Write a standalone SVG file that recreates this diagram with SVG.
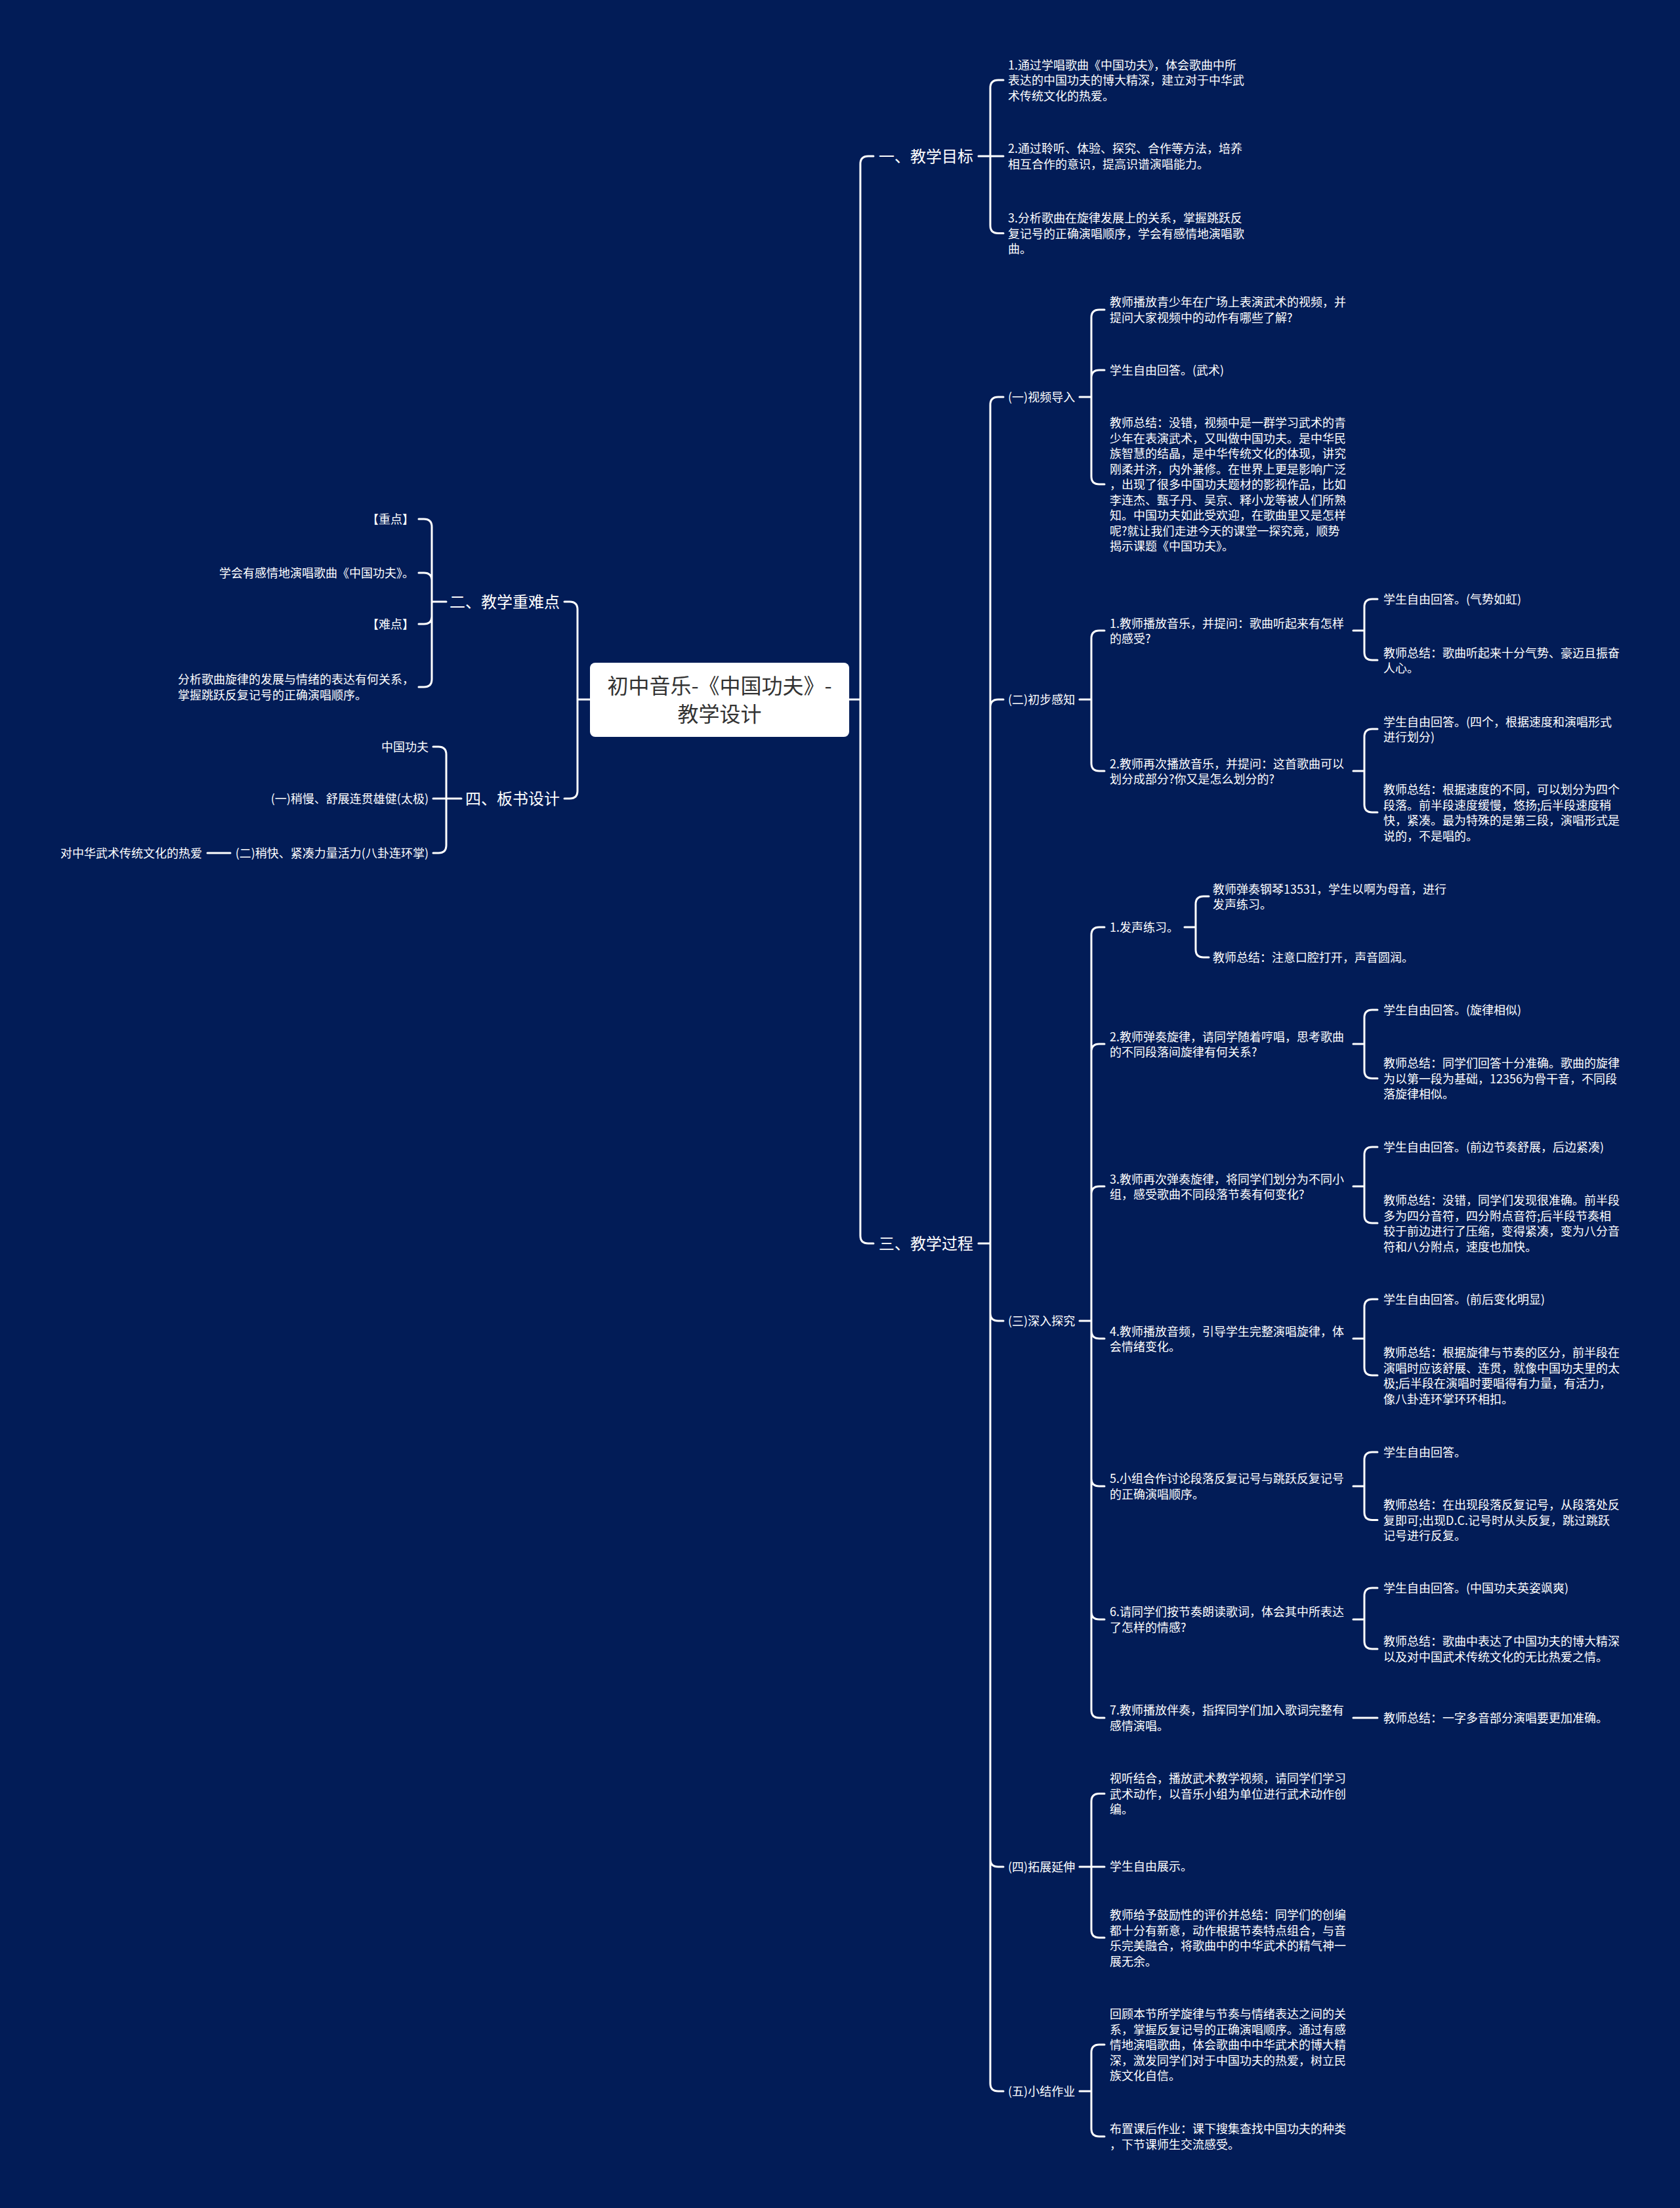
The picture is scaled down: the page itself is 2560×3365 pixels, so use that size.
<svg xmlns="http://www.w3.org/2000/svg" width="2560" height="3365" viewBox="0 0 2560 3365">
<style>
text{font-family:"Noto Sans CJK SC","Noto Sans",sans-serif;fill:#ffffff;font-size:18px}
.l1{font-size:24px}
.root{font-size:32px;fill:#333333}
.c{stroke:#ffffff;stroke-width:3;fill:none;stroke-linecap:round}
.end{text-anchor:end}
</style>
<rect x="0" y="0" width="2560" height="3365" fill="#021c57"/>
<g id="connectors" class="c">
<path d="M1294,1066 L1311,1066 M1311,250 L1311,1883 M1311,250 Q1311,238 1323,238 L1331,238 M1311,1883 Q1311,1895 1323,1895 L1331,1895"/>
<path d="M1491,238 L1509,238 M1509,134 L1509,343.5 M1509,134 Q1509,122 1521,122 L1529,122 M1509,238 L1529,238 M1509,343.5 Q1509,355.5 1521,355.5 L1529,355.5"/>
<path d="M1491,1895 L1509,1895 M1509,617 L1509,3175 M1509,617 Q1509,605 1521,605 L1529,605 M1509,1078 Q1509,1066 1521,1066 L1529,1066 M1509,2001 Q1509,2013 1521,2013 L1529,2013 M1509,2833 Q1509,2845 1521,2845 L1529,2845 M1509,3175 Q1509,3187 1521,3187 L1529,3187"/>
<path d="M1645,605 L1663,605 M1663,484 L1663,726 M1663,484 Q1663,472 1675,472 L1683,472 M1663,576 Q1663,564 1675,564 L1683,564 M1663,726 Q1663,738 1675,738 L1683,738"/>
<path d="M1645,1066 L1663,1066 M1663,973 L1663,1163 M1663,973 Q1663,961 1675,961 L1683,961 M1663,1163 Q1663,1175 1675,1175 L1683,1175"/>
<path d="M2062,961 L2079,961 M2079,925 L2079,994 M2079,925 Q2079,913 2091,913 L2099,913 M2079,994 Q2079,1006 2091,1006 L2099,1006"/>
<path d="M2062,1175 L2079,1175 M2079,1123 L2079,1226 M2079,1123 Q2079,1111 2091,1111 L2099,1111 M2079,1226 Q2079,1238 2091,1238 L2099,1238"/>
<path d="M1645,2013 L1663,2013 M1663,1425 L1663,2606 M1663,1425 Q1663,1413 1675,1413 L1683,1413 M1663,1603 Q1663,1591 1675,1591 L1683,1591 M1663,1820 Q1663,1808 1675,1808 L1683,1808 M1663,2028 Q1663,2040 1675,2040 L1683,2040 M1663,2253 Q1663,2265 1675,2265 L1683,2265 M1663,2456 Q1663,2468 1675,2468 L1683,2468 M1663,2606 Q1663,2618 1675,2618 L1683,2618"/>
<path d="M1805,1413 L1822,1413 M1822,1378 L1822,1447 M1822,1378 Q1822,1366 1834,1366 L1842,1366 M1822,1447 Q1822,1459 1834,1459 L1842,1459"/>
<path d="M2062,1591 L2079,1591 M2079,1551 L2079,1631.5 M2079,1551 Q2079,1539 2091,1539 L2099,1539 M2079,1631.5 Q2079,1643.5 2091,1643.5 L2099,1643.5"/>
<path d="M2062,1808 L2079,1808 M2079,1760 L2079,1852 M2079,1760 Q2079,1748 2091,1748 L2099,1748 M2079,1852 Q2079,1864 2091,1864 L2099,1864"/>
<path d="M2062,2040 L2079,2040 M2079,1992 L2079,2084 M2079,1992 Q2079,1980 2091,1980 L2099,1980 M2079,2084 Q2079,2096 2091,2096 L2099,2096"/>
<path d="M2062,2265 L2079,2265 M2079,2225 L2079,2304.5 M2079,2225 Q2079,2213 2091,2213 L2099,2213 M2079,2304.5 Q2079,2316.5 2091,2316.5 L2099,2316.5"/>
<path d="M2062,2468 L2079,2468 M2079,2432 L2079,2501 M2079,2432 Q2079,2420 2091,2420 L2099,2420 M2079,2501 Q2079,2513 2091,2513 L2099,2513"/>
<path d="M2062,2618 L2099,2618"/>
<path d="M1645,2845 L1663,2845 M1663,2745.5 L1663,2941 M1663,2745.5 Q1663,2733.5 1675,2733.5 L1683,2733.5 M1663,2845 L1683,2845 M1663,2941 Q1663,2953 1675,2953 L1683,2953"/>
<path d="M1645,3187 L1663,3187 M1663,3128 L1663,3244 M1663,3128 Q1663,3116 1675,3116 L1683,3116 M1663,3244 Q1663,3256 1675,3256 L1683,3256"/>
<path d="M899,1066 L880,1066 M880,929 L880,1205 M880,929 Q880,917 868,917 L860,917 M880,1205 Q880,1217 868,1217 L860,1217"/>
<path d="M680,917 L658,917 M658,803 L658,1035 M658,803 Q658,791 646,791 L638,791 M658,885 Q658,873 646,873 L638,873 M658,939 Q658,951 646,951 L638,951 M658,1035 Q658,1047 646,1047 L638,1047"/>
<path d="M703,1217 L680,1217 M680,1150 L680,1288 M680,1150 Q680,1138 668,1138 L660,1138 M680,1217 L660,1217 M680,1288 Q680,1300 668,1300 L660,1300"/>
<path d="M351,1300 L316,1300"/>
</g>
<g id="root">
<rect x="899" y="1010" width="395" height="113" rx="8" fill="#ffffff"/>
<text class="root" text-anchor="middle"><tspan x="1096.5" y="1057">初中音乐-《中国功夫》-</tspan><tspan x="1096.5" y="1100">教学设计</tspan></text>
</g>
<g id="n-mubiao"><text class="l1" x="1339" y="247">一、教学目标</text></g>
<g id="n-mubiao-1"><text><tspan x="1536" y="105.5">1.通过学唱歌曲《中国功夫》，体会歌曲中所</tspan><tspan x="1536" y="129">表达的中国功夫的博大精深，建立对于中华武</tspan><tspan x="1536" y="152.5">术传统文化的热爱。</tspan></text></g>
<g id="n-mubiao-2"><text><tspan x="1536" y="233">2.通过聆听、体验、探究、合作等方法，培养</tspan><tspan x="1536" y="257">相互合作的意识，提高识谱演唱能力。</tspan></text></g>
<g id="n-mubiao-3"><text><tspan x="1536" y="339">3.分析歌曲在旋律发展上的关系，掌握跳跃反</tspan><tspan x="1536" y="362.5">复记号的正确演唱顺序，学会有感情地演唱歌</tspan><tspan x="1536" y="386">曲。</tspan></text></g>
<g id="n-guocheng"><text class="l1" x="1339" y="1904">三、教学过程</text></g>
<g id="n-g1"><text x="1536" y="612">(一)视频导入</text></g>
<g id="n-g1-1"><text><tspan x="1691" y="467">教师播放青少年在广场上表演武术的视频，并</tspan><tspan x="1691" y="490.5">提问大家视频中的动作有哪些了解?</tspan></text></g>
<g id="n-g1-2"><text x="1691" y="571">学生自由回答。(武术)</text></g>
<g id="n-g1-3"><text><tspan x="1691" y="651">教师总结：没错，视频中是一群学习武术的青</tspan><tspan x="1691" y="674.5">少年在表演武术，又叫做中国功夫。是中华民</tspan><tspan x="1691" y="698">族智慧的结晶，是中华传统文化的体现，讲究</tspan><tspan x="1691" y="721.5">刚柔并济，内外兼修。在世界上更是影响广泛</tspan><tspan x="1691" y="745">，出现了很多中国功夫题材的影视作品，比如</tspan><tspan x="1691" y="768.5">李连杰、甄子丹、吴京、释小龙等被人们所熟</tspan><tspan x="1691" y="792">知。中国功夫如此受欢迎，在歌曲里又是怎样</tspan><tspan x="1691" y="815.5">呢?就让我们走进今天的课堂一探究竟，顺势</tspan><tspan x="1691" y="839">揭示课题《中国功夫》。</tspan></text></g>
<g id="n-g2"><text x="1536" y="1073">(二)初步感知</text></g>
<g id="n-g2-1"><text><tspan x="1691" y="956.5">1.教师播放音乐，并提问：歌曲听起来有怎样</tspan><tspan x="1691" y="980">的感受?</tspan></text></g>
<g id="n-g2-1-1"><text x="2108" y="920">学生自由回答。(气势如虹)</text></g>
<g id="n-g2-1-2"><text><tspan x="2108" y="1001.5">教师总结：歌曲听起来十分气势、豪迈且振奋</tspan><tspan x="2108" y="1025">人心。</tspan></text></g>
<g id="n-g2-2"><text><tspan x="1691" y="1170.5">2.教师再次播放音乐，并提问：这首歌曲可以</tspan><tspan x="1691" y="1194">划分成部分?你又是怎么划分的?</tspan></text></g>
<g id="n-g2-2-1"><text><tspan x="2108" y="1106.5">学生自由回答。(四个，根据速度和演唱形式</tspan><tspan x="2108" y="1130">进行划分)</tspan></text></g>
<g id="n-g2-2-2"><text><tspan x="2108" y="1210">教师总结：根据速度的不同，可以划分为四个</tspan><tspan x="2108" y="1233.5">段落。前半段速度缓慢，悠扬;后半段速度稍</tspan><tspan x="2108" y="1257">快，紧凑。最为特殊的是第三段，演唱形式是</tspan><tspan x="2108" y="1280.5">说的，不是唱的。</tspan></text></g>
<g id="n-g3"><text x="1536" y="2020">(三)深入探究</text></g>
<g id="n-g3-1"><text x="1691" y="1420">1.发声练习。</text></g>
<g id="n-g3-1-1"><text><tspan x="1848" y="1361.5">教师弹奏钢琴13531，学生以啊为母音，进行</tspan><tspan x="1848" y="1385">发声练习。</tspan></text></g>
<g id="n-g3-1-2"><text x="1848" y="1466">教师总结：注意口腔打开，声音圆润。</text></g>
<g id="n-g3-2"><text><tspan x="1691" y="1586.5">2.教师弹奏旋律，请同学随着哼唱，思考歌曲</tspan><tspan x="1691" y="1610">的不同段落间旋律有何关系?</tspan></text></g>
<g id="n-g3-2-1"><text x="2108" y="1546">学生自由回答。(旋律相似)</text></g>
<g id="n-g3-2-2"><text><tspan x="2108" y="1627">教师总结：同学们回答十分准确。歌曲的旋律</tspan><tspan x="2108" y="1650.5">为以第一段为基础，12356为骨干音，不同段</tspan><tspan x="2108" y="1674">落旋律相似。</tspan></text></g>
<g id="n-g3-3"><text><tspan x="1691" y="1803.5">3.教师再次弹奏旋律，将同学们划分为不同小</tspan><tspan x="1691" y="1827">组，感受歌曲不同段落节奏有何变化?</tspan></text></g>
<g id="n-g3-3-1"><text x="2108" y="1755">学生自由回答。(前边节奏舒展，后边紧凑)</text></g>
<g id="n-g3-3-2"><text><tspan x="2108" y="1836">教师总结：没错，同学们发现很准确。前半段</tspan><tspan x="2108" y="1859.5">多为四分音符，四分附点音符;后半段节奏相</tspan><tspan x="2108" y="1883">较于前边进行了压缩，变得紧凑，变为八分音</tspan><tspan x="2108" y="1906.5">符和八分附点，速度也加快。</tspan></text></g>
<g id="n-g3-4"><text><tspan x="1691" y="2035.5">4.教师播放音频，引导学生完整演唱旋律，体</tspan><tspan x="1691" y="2059">会情绪变化。</tspan></text></g>
<g id="n-g3-4-1"><text x="2108" y="1987">学生自由回答。(前后变化明显)</text></g>
<g id="n-g3-4-2"><text><tspan x="2108" y="2068">教师总结：根据旋律与节奏的区分，前半段在</tspan><tspan x="2108" y="2091.5">演唱时应该舒展、连贯，就像中国功夫里的太</tspan><tspan x="2108" y="2115">极;后半段在演唱时要唱得有力量，有活力，</tspan><tspan x="2108" y="2138.5">像八卦连环掌环环相扣。</tspan></text></g>
<g id="n-g3-5"><text><tspan x="1691" y="2260">5.小组合作讨论段落反复记号与跳跃反复记号</tspan><tspan x="1691" y="2283.5">的正确演唱顺序。</tspan></text></g>
<g id="n-g3-5-1"><text x="2108" y="2220">学生自由回答。</text></g>
<g id="n-g3-5-2"><text><tspan x="2108" y="2300">教师总结：在出现段落反复记号，从段落处反</tspan><tspan x="2108" y="2323.5">复即可;出现D.C.记号时从头反复，跳过跳跃</tspan><tspan x="2108" y="2347">记号进行反复。</tspan></text></g>
<g id="n-g3-6"><text><tspan x="1691" y="2463">6.请同学们按节奏朗读歌词，体会其中所表达</tspan><tspan x="1691" y="2486.5">了怎样的情感?</tspan></text></g>
<g id="n-g3-6-1"><text x="2108" y="2427">学生自由回答。(中国功夫英姿飒爽)</text></g>
<g id="n-g3-6-2"><text><tspan x="2108" y="2508">教师总结：歌曲中表达了中国功夫的博大精深</tspan><tspan x="2108" y="2531.5">以及对中国武术传统文化的无比热爱之情。</tspan></text></g>
<g id="n-g3-7"><text><tspan x="1691" y="2613">7.教师播放伴奏，指挥同学们加入歌词完整有</tspan><tspan x="1691" y="2636.5">感情演唱。</tspan></text></g>
<g id="n-g3-7-1"><text x="2108" y="2625">教师总结：一字多音部分演唱要更加准确。</text></g>
<g id="n-g4"><text x="1536" y="2852">(四)拓展延伸</text></g>
<g id="n-g4-1"><text><tspan x="1691" y="2717">视听结合，播放武术教学视频，请同学们学习</tspan><tspan x="1691" y="2740.5">武术动作，以音乐小组为单位进行武术动作创</tspan><tspan x="1691" y="2764">编。</tspan></text></g>
<g id="n-g4-2"><text x="1691" y="2851">学生自由展示。</text></g>
<g id="n-g4-3"><text><tspan x="1691" y="2925">教师给予鼓励性的评价并总结：同学们的创编</tspan><tspan x="1691" y="2948.5">都十分有新意，动作根据节奏特点组合，与音</tspan><tspan x="1691" y="2972">乐完美融合，将歌曲中的中华武术的精气神一</tspan><tspan x="1691" y="2995.5">展无余。</tspan></text></g>
<g id="n-g5"><text x="1536" y="3194">(五)小结作业</text></g>
<g id="n-g5-1"><text><tspan x="1691" y="3076">回顾本节所学旋律与节奏与情绪表达之间的关</tspan><tspan x="1691" y="3099.5">系，掌握反复记号的正确演唱顺序。通过有感</tspan><tspan x="1691" y="3123">情地演唱歌曲，体会歌曲中中华武术的博大精</tspan><tspan x="1691" y="3146.5">深，激发同学们对于中国功夫的热爱，树立民</tspan><tspan x="1691" y="3170">族文化自信。</tspan></text></g>
<g id="n-g5-2"><text><tspan x="1691" y="3251">布置课后作业：课下搜集查找中国功夫的种类</tspan><tspan x="1691" y="3274.5">，下节课师生交流感受。</tspan></text></g>
<g id="n-zhongnan"><text class="l1 end" x="853" y="926">二、教学重难点</text></g>
<g id="n-zn-1"><text class="end" x="631" y="798">【重点】</text></g>
<g id="n-zn-2"><text class="end" x="631" y="880">学会有感情地演唱歌曲《中国功夫》。</text></g>
<g id="n-zn-3"><text class="end" x="631" y="958">【难点】</text></g>
<g id="n-zn-4"><text><tspan x="271" y="1042">分析歌曲旋律的发展与情绪的表达有何关系，</tspan><tspan x="271" y="1065.5">掌握跳跃反复记号的正确演唱顺序。</tspan></text></g>
<g id="n-banshu"><text class="l1 end" x="853" y="1226">四、板书设计</text></g>
<g id="n-bs-1"><text class="end" x="653" y="1145">中国功夫</text></g>
<g id="n-bs-2"><text class="end" x="653" y="1224">(一)稍慢、舒展连贯雄健(太极)</text></g>
<g id="n-bs-3"><text class="end" x="653" y="1307">(二)稍快、紧凑力量活力(八卦连环掌)</text></g>
<g id="n-bs-3-1"><text class="end" x="308" y="1307">对中华武术传统文化的热爱</text></g>
</svg>
